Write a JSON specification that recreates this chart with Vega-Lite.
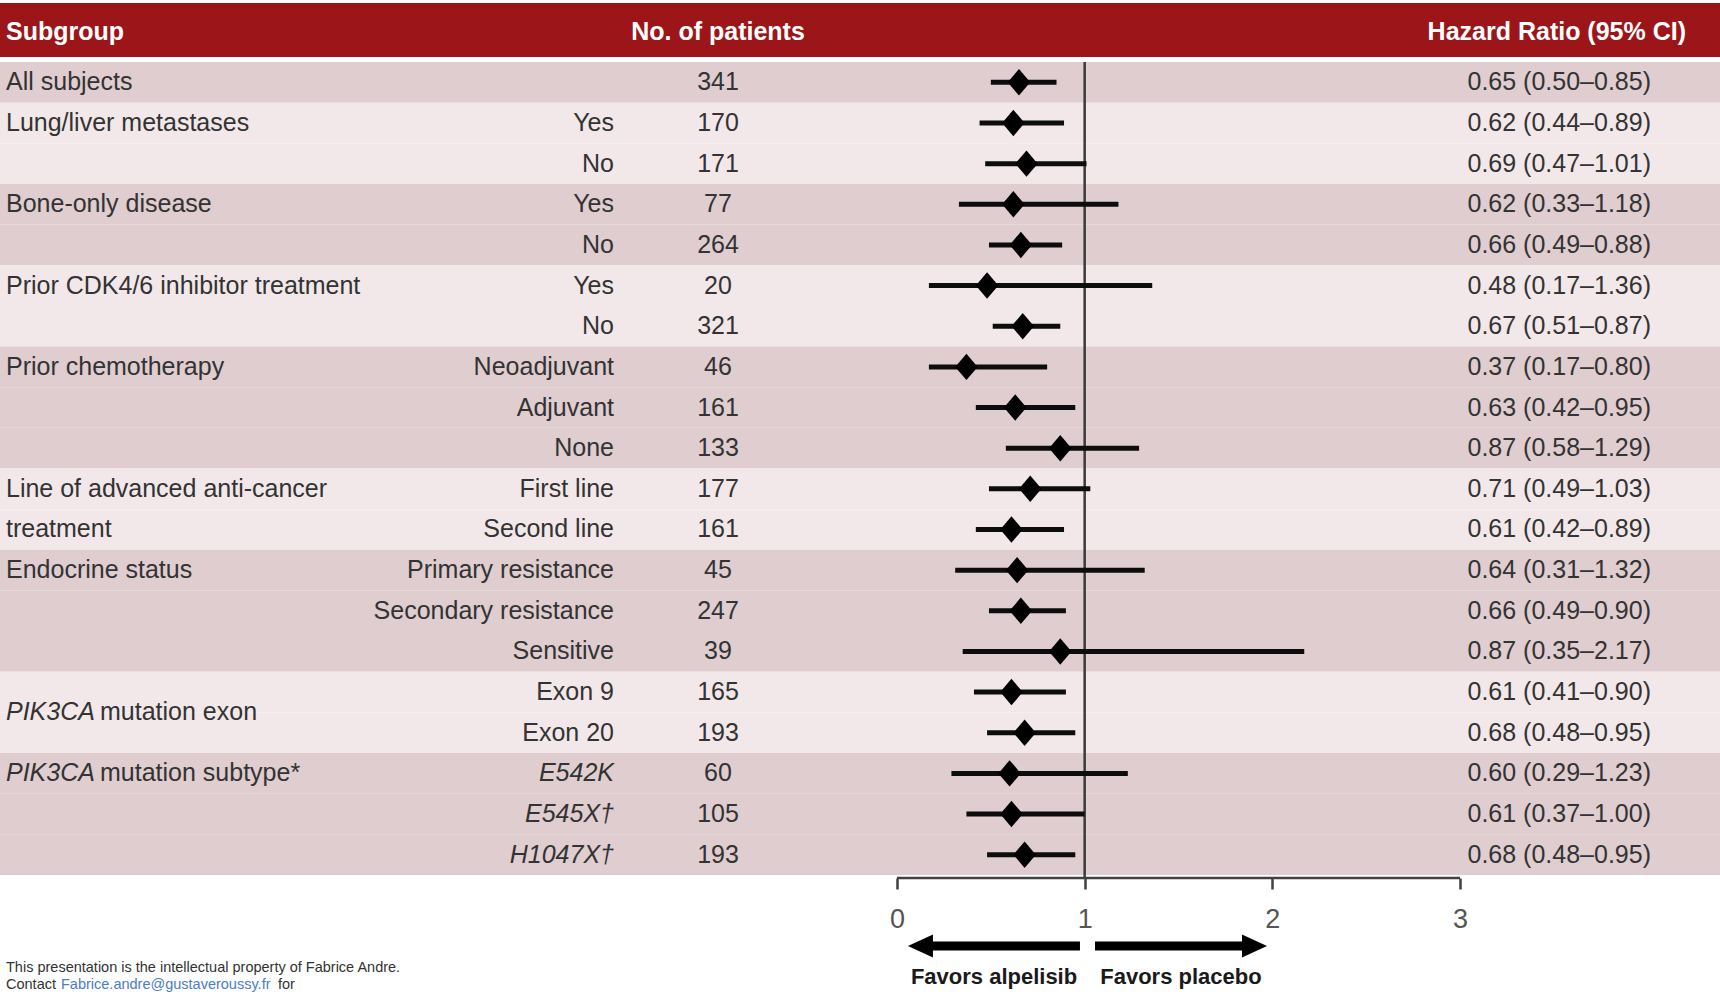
{
  "$schema": "https://vega.github.io/schema/vega-lite/v6.json",
  "width": 1720,
  "height": 878,
  "autosize": {"type": "none"},
  "padding": {"left": 0, "top": 0, "right": 0, "bottom": 116},
  "background": "white",
  "config": {"view": {"stroke": null}, "font": "Liberation Sans"},
  "data": {"values": [
    {"row": 1, "group": "All subjects", "label": "All subjects", "gene": "", "sub": "", "n": 341, "hr": 0.65, "lo": 0.50, "hi": 0.85, "hrtxt": "0.65 (0.50–0.85)"},
    {"row": 2, "group": "Lung/liver metastases", "label": "Lung/liver metastases", "gene": "", "sub": "Yes", "n": 170, "hr": 0.62, "lo": 0.44, "hi": 0.89, "hrtxt": "0.62 (0.44–0.89)"},
    {"row": 3, "group": "Lung/liver metastases", "label": "", "gene": "", "sub": "No", "n": 171, "hr": 0.69, "lo": 0.47, "hi": 1.01, "hrtxt": "0.69 (0.47–1.01)"},
    {"row": 4, "group": "Bone-only disease", "label": "Bone-only disease", "gene": "", "sub": "Yes", "n": 77, "hr": 0.62, "lo": 0.33, "hi": 1.18, "hrtxt": "0.62 (0.33–1.18)"},
    {"row": 5, "group": "Bone-only disease", "label": "", "gene": "", "sub": "No", "n": 264, "hr": 0.66, "lo": 0.49, "hi": 0.88, "hrtxt": "0.66 (0.49–0.88)"},
    {"row": 6, "group": "Prior CDK4/6 inhibitor treatment", "label": "Prior CDK4/6 inhibitor treatment", "gene": "", "sub": "Yes", "n": 20, "hr": 0.48, "lo": 0.17, "hi": 1.36, "hrtxt": "0.48 (0.17–1.36)"},
    {"row": 7, "group": "Prior CDK4/6 inhibitor treatment", "label": "", "gene": "", "sub": "No", "n": 321, "hr": 0.67, "lo": 0.51, "hi": 0.87, "hrtxt": "0.67 (0.51–0.87)"},
    {"row": 8, "group": "Prior chemotherapy", "label": "Prior chemotherapy", "gene": "", "sub": "Neoadjuvant", "n": 46, "hr": 0.37, "lo": 0.17, "hi": 0.80, "hrtxt": "0.37 (0.17–0.80)"},
    {"row": 9, "group": "Prior chemotherapy", "label": "", "gene": "", "sub": "Adjuvant", "n": 161, "hr": 0.63, "lo": 0.42, "hi": 0.95, "hrtxt": "0.63 (0.42–0.95)"},
    {"row": 10, "group": "Prior chemotherapy", "label": "", "gene": "", "sub": "None", "n": 133, "hr": 0.87, "lo": 0.58, "hi": 1.29, "hrtxt": "0.87 (0.58–1.29)"},
    {"row": 11, "group": "Line of advanced anti-cancer treatment", "label": "Line of advanced anti-cancer", "gene": "", "sub": "First line", "n": 177, "hr": 0.71, "lo": 0.49, "hi": 1.03, "hrtxt": "0.71 (0.49–1.03)"},
    {"row": 12, "group": "Line of advanced anti-cancer treatment", "label": "treatment", "gene": "", "sub": "Second line", "n": 161, "hr": 0.61, "lo": 0.42, "hi": 0.89, "hrtxt": "0.61 (0.42–0.89)"},
    {"row": 13, "group": "Endocrine status", "label": "Endocrine status", "gene": "", "sub": "Primary resistance", "n": 45, "hr": 0.64, "lo": 0.31, "hi": 1.32, "hrtxt": "0.64 (0.31–1.32)"},
    {"row": 14, "group": "Endocrine status", "label": "", "gene": "", "sub": "Secondary resistance", "n": 247, "hr": 0.66, "lo": 0.49, "hi": 0.90, "hrtxt": "0.66 (0.49–0.90)"},
    {"row": 15, "group": "Endocrine status", "label": "", "gene": "", "sub": "Sensitive", "n": 39, "hr": 0.87, "lo": 0.35, "hi": 2.17, "hrtxt": "0.87 (0.35–2.17)"},
    {"row": 16, "group": "PIK3CA mutation exon", "label": "mutation exon", "gene": "PIK3CA", "sub": "Exon 9", "n": 165, "hr": 0.61, "lo": 0.41, "hi": 0.90, "hrtxt": "0.61 (0.41–0.90)"},
    {"row": 17, "group": "PIK3CA mutation exon", "label": "", "gene": "", "sub": "Exon 20", "n": 193, "hr": 0.68, "lo": 0.48, "hi": 0.95, "hrtxt": "0.68 (0.48–0.95)"},
    {"row": 18, "group": "PIK3CA mutation subtype", "label": "mutation subtype*", "gene": "PIK3CA", "sub": "E542K", "n": 60, "hr": 0.60, "lo": 0.29, "hi": 1.23, "hrtxt": "0.60 (0.29–1.23)"},
    {"row": 19, "group": "PIK3CA mutation subtype", "label": "", "gene": "", "sub": "E545X†", "n": 105, "hr": 0.61, "lo": 0.37, "hi": 1.00, "hrtxt": "0.61 (0.37–1.00)"},
    {"row": 20, "group": "PIK3CA mutation subtype", "label": "", "gene": "", "sub": "H1047X†", "n": 193, "hr": 0.68, "lo": 0.48, "hi": 0.95, "hrtxt": "0.68 (0.48–0.95)"}
  ]},
  "layer": [
    {
      "mark": {"type": "rect"},
      "encoding": {
        "y": {"field": "row", "type": "ordinal", "axis": null, "scale": {"range": [62, 875], "paddingInner": 0, "paddingOuter": 0}},
        "x": {"value": 0},
        "x2": {"value": 1720},
        "color": {"field": "group", "type": "nominal", "legend": null,
          "scale": {"domain": ["All subjects", "Lung/liver metastases", "Bone-only disease", "Prior CDK4/6 inhibitor treatment", "Prior chemotherapy", "Line of advanced anti-cancer treatment", "Endocrine status", "PIK3CA mutation exon", "PIK3CA mutation subtype"],
                    "range": ["#dfcdd0", "#f2e8e9", "#dfcdd0", "#f2e8e9", "#dfcdd0", "#f2e8e9", "#dfcdd0", "#f2e8e9", "#dfcdd0"]}}
      }
    },
    {
      "data": {"values": [{"c1": "Subgroup", "c2": "No. of patients", "c3": "Hazard Ratio (95% CI)"}]},
      "layer": [
        {"mark": {"type": "rect", "color": "#9c1519"},
         "encoding": {"x": {"value": 0}, "x2": {"value": 1720}, "y": {"value": 3}, "y2": {"value": 57}}},
        {"mark": {"type": "text", "align": "left", "baseline": "middle", "font": "Liberation Sans", "fontWeight": "bold", "fontSize": 25, "color": "white"},
         "encoding": {"text": {"field": "c1"}, "x": {"value": 6}, "y": {"value": 32}}},
        {"mark": {"type": "text", "align": "center", "baseline": "middle", "font": "Liberation Sans", "fontWeight": "bold", "fontSize": 25, "color": "white"},
         "encoding": {"text": {"field": "c2"}, "x": {"value": 718}, "y": {"value": 32}}},
        {"mark": {"type": "text", "align": "right", "baseline": "middle", "font": "Liberation Sans", "fontWeight": "bold", "fontSize": 25, "color": "white"},
         "encoding": {"text": {"field": "c3"}, "x": {"value": 1686}, "y": {"value": 32}}}
      ]
    },
    {
      "data": {"values": [{}]},
      "mark": {"type": "rule", "color": "#3a3a3a", "strokeWidth": 2.5},
      "encoding": {"x": {"datum": 1, "type": "quantitative", "title": null}, "y": {"value": 62}, "y2": {"value": 878}}
    },
    {
      "data": {"values": [{}]},
      "mark": {"type": "rule", "color": "#404040", "strokeWidth": 2.7},
      "encoding": {"x": {"datum": 0, "type": "quantitative", "title": null}, "x2": {"datum": 3}, "y": {"value": 878}}
    },
    {
      "mark": {"type": "rule", "color": "#0d0d0d", "strokeWidth": 5},
      "encoding": {
        "y": {"field": "row", "type": "ordinal", "axis": null},
        "x": {"field": "lo", "type": "quantitative", "title": null,
              "scale": {"domain": [-4.7797, 4.3854], "nice": false, "zero": false},
              "axis": {"values": [0, 1, 2, 3], "format": "d", "domain": false, "grid": false, "ticks": true, "tickSize": 11, "tickWidth": 2.5, "tickColor": "#404040",
                       "labelFont": "Liberation Sans", "labelFontSize": 27, "labelColor": "#555555", "labelPadding": 17, "title": null, "labelFlush": false, "labelOverlap": false, "orient": "bottom", "zindex": 1}},
        "x2": {"field": "hi"}
      }
    },
    {
      "mark": {"type": "point", "filled": true, "opacity": 1, "color": "#000000", "shape": "M-0.85,0L0,-1L0.85,0L0,1Z", "size": 700},
      "encoding": {
        "y": {"field": "row", "type": "ordinal", "axis": null},
        "x": {"field": "hr", "type": "quantitative", "title": null}
      }
    },
    {
      "transform": [{"filter": "datum.label != '' && datum.gene == ''"}],
      "mark": {"type": "text", "align": "left", "baseline": "middle", "font": "Liberation Sans", "fontSize": 25, "color": "#333333"},
      "encoding": {"y": {"field": "row", "type": "ordinal", "axis": null}, "x": {"value": 6}, "text": {"field": "label"}}
    },
    {
      "transform": [{"filter": "datum.gene != '' && datum.group == 'PIK3CA mutation subtype'"}],
      "layer": [
        {"mark": {"type": "text", "align": "left", "baseline": "middle", "font": "Liberation Sans", "fontStyle": "italic", "fontSize": 25, "color": "#333333"},
         "encoding": {"y": {"field": "row", "type": "ordinal", "axis": null}, "x": {"value": 6}, "text": {"field": "gene"}}},
        {"mark": {"type": "text", "align": "left", "baseline": "middle", "font": "Liberation Sans", "fontSize": 25, "color": "#333333"},
         "encoding": {"y": {"field": "row", "type": "ordinal", "axis": null}, "x": {"value": 100}, "text": {"field": "label"}}}
      ]
    },
    {
      "transform": [{"filter": "datum.gene != '' && datum.group == 'PIK3CA mutation exon'"}],
      "layer": [
        {"mark": {"type": "text", "align": "left", "baseline": "middle", "font": "Liberation Sans", "fontStyle": "italic", "fontSize": 25, "color": "#333333"},
         "encoding": {"y": {"field": "row", "type": "ordinal", "axis": null, "bandPosition": 1}, "x": {"value": 6}, "text": {"field": "gene"}}},
        {"mark": {"type": "text", "align": "left", "baseline": "middle", "font": "Liberation Sans", "fontSize": 25, "color": "#333333"},
         "encoding": {"y": {"field": "row", "type": "ordinal", "axis": null, "bandPosition": 1}, "x": {"value": 100}, "text": {"field": "label"}}}
      ]
    },
    {
      "transform": [{"filter": "datum.group != 'PIK3CA mutation subtype'"}],
      "mark": {"type": "text", "align": "right", "baseline": "middle", "font": "Liberation Sans", "fontSize": 25, "color": "#333333"},
      "encoding": {"y": {"field": "row", "type": "ordinal", "axis": null}, "x": {"value": 614}, "text": {"field": "sub"}}
    },
    {
      "transform": [{"filter": "datum.group == 'PIK3CA mutation subtype'"}],
      "mark": {"type": "text", "align": "right", "baseline": "middle", "font": "Liberation Sans", "fontStyle": "italic", "fontSize": 25, "color": "#333333"},
      "encoding": {"y": {"field": "row", "type": "ordinal", "axis": null}, "x": {"value": 614}, "text": {"field": "sub"}}
    },
    {
      "mark": {"type": "text", "align": "center", "baseline": "middle", "font": "Liberation Sans", "fontSize": 25, "color": "#333333"},
      "encoding": {"y": {"field": "row", "type": "ordinal", "axis": null}, "x": {"value": 718}, "text": {"field": "n"}}
    },
    {
      "mark": {"type": "text", "align": "right", "baseline": "middle", "font": "Liberation Sans", "fontSize": 25, "color": "#333333"},
      "encoding": {"y": {"field": "row", "type": "ordinal", "axis": null}, "x": {"value": 1651}, "text": {"field": "hrtxt"}}
    },
    {
      "data": {"values": [{"left": "Favors alpelisib", "right": "Favors placebo"}]},
      "layer": [
        {"mark": {"type": "rule", "color": "#000000", "strokeWidth": 9},
         "encoding": {"x": {"datum": 0.13, "type": "quantitative", "title": null}, "x2": {"datum": 0.975}, "y": {"value": 946}}},
        {"mark": {"type": "rule", "color": "#000000", "strokeWidth": 9},
         "encoding": {"x": {"datum": 1.055, "type": "quantitative", "title": null}, "x2": {"datum": 1.9}, "y": {"value": 946}}},
        {"mark": {"type": "point", "filled": true, "opacity": 1, "color": "#000000", "shape": "M-1,0L1,-0.92L1,0.92Z", "size": 625},
         "encoding": {"x": {"datum": 0.125, "type": "quantitative", "title": null}, "y": {"value": 946}}},
        {"mark": {"type": "point", "filled": true, "opacity": 1, "color": "#000000", "shape": "M1,0L-1,-0.92L-1,0.92Z", "size": 625},
         "encoding": {"x": {"datum": 1.905, "type": "quantitative", "title": null}, "y": {"value": 946}}},
        {"mark": {"type": "text", "align": "center", "baseline": "middle", "font": "Liberation Sans", "fontWeight": "bold", "fontSize": 22, "color": "#1a1a1a"},
         "encoding": {"x": {"datum": 0.517, "type": "quantitative", "title": null}, "y": {"value": 977}, "text": {"field": "left"}}},
        {"mark": {"type": "text", "align": "center", "baseline": "middle", "font": "Liberation Sans", "fontWeight": "bold", "fontSize": 22, "color": "#1a1a1a"},
         "encoding": {"x": {"datum": 1.513, "type": "quantitative", "title": null}, "y": {"value": 977}, "text": {"field": "right"}}}
      ]
    },
    {
      "data": {"values": [{"l1": "This presentation is the intellectual property of Fabrice Andre.", "a": "Contact", "b": "Fabrice.andre@gustaveroussy.fr", "c": "for"}]},
      "layer": [
        {"mark": {"type": "text", "align": "left", "baseline": "middle", "font": "Liberation Sans", "fontSize": 14.5, "color": "#333333"},
         "encoding": {"x": {"value": 6}, "y": {"value": 968}, "text": {"field": "l1"}}},
        {"mark": {"type": "text", "align": "left", "baseline": "middle", "font": "Liberation Sans", "fontSize": 14.5, "color": "#333333"},
         "encoding": {"x": {"value": 6}, "y": {"value": 985}, "text": {"field": "a"}}},
        {"mark": {"type": "text", "align": "left", "baseline": "middle", "font": "Liberation Sans", "fontSize": 14.5, "color": "#4a7dc4"},
         "encoding": {"x": {"value": 61}, "y": {"value": 985}, "text": {"field": "b"}}},
        {"mark": {"type": "text", "align": "left", "baseline": "middle", "font": "Liberation Sans", "fontSize": 14.5, "color": "#333333"},
         "encoding": {"x": {"value": 278}, "y": {"value": 985}, "text": {"field": "c"}}}
      ]
    }
  ]
}
